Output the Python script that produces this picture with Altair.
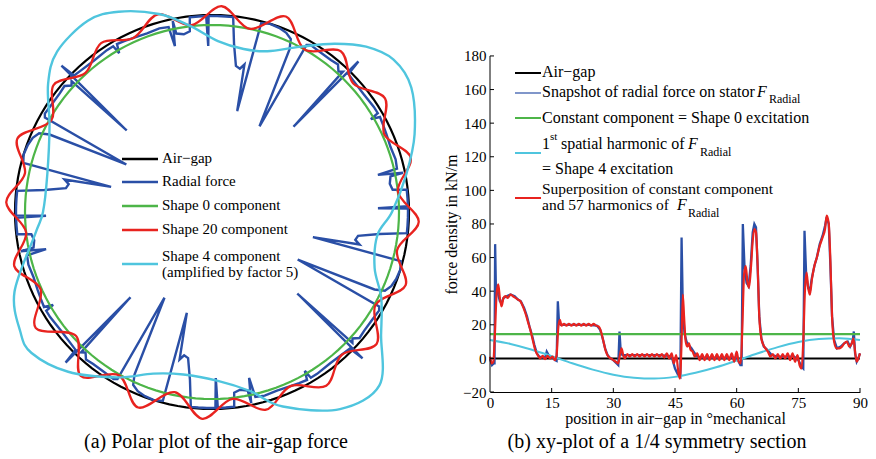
import altair as alt
import pandas as pd

SERIF = "Liberation Serif"

# ---------------------------------------------------------------------------
# (b) xy-plot of a 1/4 symmetry section: force density (kN/m) vs position (deg)
# ---------------------------------------------------------------------------
POS_TICKS = [0, 15, 30, 45, 60, 75, 90]
FORCE_TICKS = [-20, 0, 20, 40, 60, 80, 100, 120, 140, 160, 180]

AIRGAP_LINE = [(0, 0), (90, 0)]
SHAPE0_LINE = [(0, 14.5), (90, 14.5)]

# snapshot of the radial force on the stator
SNAPSHOT = [
    (0, 0), (0.5, -4), (0.9, -3), (1.1, -3), (1.25, 68), (1.45, 40), (1.7, 42),
    (2.0, 38), (2.4, 34), (2.8, 33), (3.3, 36), (4.0, 37), (5.0, 38), (6.0, 37),
    (6.8, 35), (7.5, 34), (8.3, 30), (9.0, 25), (9.6, 19), (10.2, 14), (10.8, 8),
    (11.4, 3), (12.0, 1), (12.8, 0.5), (13.5, 1), (13.8, 4), (14.5, 1), (15.2, 0.5),
    (15.8, -1), (16.2, -1.5), (16.5, 34), (16.8, 21), (17.2, 20), (18, 20), (20, 20),
    (22, 20), (24, 20), (26, 19.5), (26.8, 17), (27.4, 12), (28, 6), (28.6, 2),
    (29.3, 0), (30.0, -1), (30.8, -3), (31.2, -4), (31.5, 16), (31.8, 4), (32.2, 2),
    (33, 2), (35, 2), (38, 2), (41, 2), (43.5, 1.5), (44.3, 0), (45.0, -6),
    (45.8, -10), (46.3, -11), (46.6, 72), (46.9, 30), (47.3, 15), (47.8, 10),
    (48.3, 8), (49, 6), (49.8, 3), (50.5, 1), (52, 0.5), (55, 0.5), (58, 0.5),
    (59.5, 0.5), (60.3, -1), (60.9, -4), (61.2, -4), (61.5, 80), (61.9, 55),
    (62.4, 45), (62.9, 43), (63.4, 55), (63.9, 75), (64.3, 80), (64.7, 78),
    (65.1, 55), (65.5, 25), (66, 12), (66.6, 7), (67.5, 5), (68.5, 2), (70, 1),
    (72, 1), (74, 1), (75, -1), (75.8, -5), (76.2, -6), (76.5, 76), (76.9, 50),
    (77.4, 42), (77.8, 40), (78.3, 48), (78.9, 55), (79.5, 60), (80.2, 68),
    (80.9, 73), (81.5, 79), (81.9, 84), (82.4, 80), (82.8, 55), (83.2, 25),
    (83.7, 11), (84.4, 6), (85.3, 7), (86.2, 9), (87.0, 10), (87.6, 7), (88.2, 10),
    (88.5, 16), (88.8, 3), (89.2, -2), (89.6, 0), (90, 3),
]

# superposition of the constant component and 57 harmonics
SUPERPOSITION = [
    (0, 1), (0.4, -3), (0.8, -2), (1.2, 15), (1.6, 38), (2.0, 44), (2.4, 36),
    (2.8, 31), (3.3, 36), (3.8, 37), (4.3, 36), (5.0, 38), (5.6, 37), (6.2, 36),
    (6.8, 35), (7.4, 34), (8.0, 31), (8.6, 27), (9.2, 22), (9.8, 17), (10.4, 11),
    (11.0, 5), (11.6, 2), (12.2, 0), (12.8, 1.5), (13.4, -0.5), (14.0, 1.5),
    (14.6, 0), (15.2, 1), (15.8, -1), (16.2, 2), (16.6, 18), (17.0, 23),
    (17.4, 19.5), (18.0, 20.5), (18.6, 19.5), (19.2, 20.5), (19.8, 19.5),
    (20.4, 20.5), (21.0, 19.5), (21.6, 20.5), (22.2, 19.5), (22.8, 20.5),
    (23.4, 19.5), (24.0, 20.5), (24.6, 19.5), (25.2, 20.5), (25.8, 19.5),
    (26.4, 19), (27.0, 16), (27.6, 10), (28.2, 4), (28.8, 1), (29.4, 0),
    (30.0, -1), (30.6, -2), (31.2, -3), (31.6, 2), (32.0, 6), (32.4, 2),
    (32.8, 0), (33.4, 2.5), (34.0, 1), (34.6, 2.5), (35.2, 1), (35.8, 2.5),
    (36.4, 1), (37.0, 2.5), (37.6, 1), (38.2, 2.5), (38.8, 1), (39.4, 2.5),
    (40.0, 1), (40.6, 2.5), (41.2, 1), (41.8, 2.5), (42.4, 0.5), (43.0, 3),
    (43.6, 0), (44.2, 3), (44.7, -3), (45.3, 2), (45.8, -8), (46.2, -12),
    (46.6, 10), (46.9, 38), (47.2, 25), (47.6, 10), (48.0, 7), (48.4, 9),
    (48.8, 5), (49.3, 4), (49.8, 1), (50.4, 3), (51.0, -1), (51.6, 2.5),
    (52.2, -1), (52.8, 2.5), (53.4, -1), (54.0, 2.5), (54.6, -1), (55.2, 2.5),
    (55.8, -1), (56.4, 2.5), (57.0, -1), (57.6, 2.5), (58.2, -1), (58.8, 3),
    (59.4, -2), (60.0, 4), (60.5, -2), (61.0, -3), (61.4, 20), (61.8, 50),
    (62.2, 55), (62.6, 46), (63.0, 42), (63.5, 55), (63.9, 70), (64.3, 77),
    (64.7, 75), (65.1, 55), (65.5, 25), (66.0, 12), (66.5, 8), (67.0, 6),
    (67.6, 4), (68.2, 1), (68.8, 2.5), (69.4, 0), (70.0, 2.5), (70.6, 0),
    (71.2, 2.5), (71.8, 0), (72.4, 3), (73.0, -1), (73.6, 3), (74.2, -2),
    (74.8, 2), (75.3, -4), (75.8, -6), (76.2, 10), (76.6, 40), (77.0, 51),
    (77.4, 42), (77.8, 38), (78.3, 47), (78.9, 55), (79.5, 60), (80.2, 67),
    (80.9, 72), (81.5, 77), (81.9, 85), (82.4, 80), (82.8, 58), (83.2, 25),
    (83.7, 10), (84.3, 6), (85.0, 6), (85.6, 7), (86.2, 9), (86.8, 10),
    (87.4, 7), (88.0, 9), (88.4, 12), (88.8, 4), (89.2, -2), (89.6, 0), (90, 3),
]

# 1st spatial harmonic (shape 4 excitation)
SHAPE4_LINE = [
    (0, 11), (5, 8.6), (10, 5.3), (15, 1.3), (20, -2.9), (25, -6.7), (30, -9.7),
    (35, -11.5), (40, -12), (45, -11), (50, -8.6), (55, -5.3), (60, -1.3),
    (65, 2.9), (70, 6.7), (75, 9.7), (80, 11.5), (85, 12), (90, 11),
]

# ---------------------------------------------------------------------------
# (a) polar plot: radius in plot units, angle in degrees (counter-clockwise)
# ---------------------------------------------------------------------------
AIRGAP_RADIUS = 197
SHAPE0_RADIUS = 187

# radial force over one quarter turn; the section repeats every 90 degrees
QUARTER_STARTS = [0, 90, 180, 270]
RADIAL_QUARTER = [
    (0.0, 196), (1.0, 196), (1.3, 166), (1.7, 196), (4.0, 196), (6.5, 196),
    (7.0, 182), (9.0, 180), (11.3, 182), (11.6, 195), (12.6, 170), (13.2, 190),
    (16, 191), (20, 190), (24, 191), (27, 192), (29.5, 193), (30.3, 184),
    (30.8, 193), (33, 193), (38, 192), (43, 193), (45.3, 194), (45.8, 210),
    (46.3, 118), (47.0, 192), (48.0, 189), (49.5, 194), (52, 193), (56, 193),
    (59.5, 194), (60.5, 192), (61.0, 98), (64.5, 180), (65.5, 190), (67.5, 194),
    (70, 196), (73, 197), (75.4, 195), (76.0, 104), (77.6, 151), (79.0, 146),
    (80.7, 148), (82.5, 169), (83.8, 196), (86, 196), (88.5, 196),
]

# shape 20 component: successive troughs and crests
SHAPE20 = [
    (6.3, 187), (15.3, 206), (24.3, 189), (33.3, 207), (42.3, 191), (51.3, 206),
    (60.3, 187), (69.3, 209), (78.3, 187), (87.3, 206), (96.3, 188), (105.3, 205),
    (114.3, 191), (123.3, 202), (132.3, 188), (141.3, 203), (150.3, 185),
    (159.3, 208), (168.3, 191), (177.3, 206), (186.3, 187), (195.3, 205),
    (204.3, 188), (213.3, 211), (222.3, 184), (231.3, 210), (240.3, 188),
    (249.3, 209), (258.3, 184), (267.3, 207), (276.3, 188), (285.3, 205),
    (294.3, 191), (303.3, 208), (312.3, 193), (321.3, 211), (330.3, 188),
    (339.3, 207), (348.3, 189), (357.3, 207),
]

# shape 4 component (amplified by factor 5)
SHAPE4_POLAR = [
    (0, 180), (11, 198), (21, 217), (32, 235), (40, 237), (47, 226), (54, 208),
    (62, 187), (71, 170), (79, 166), (88, 171), (97, 188), (105, 205), (115, 221),
    (123, 228), (134, 223), (142, 208), (152, 184), (167, 169), (180, 169),
    (187, 178), (202, 213), (212, 226), (218, 229), (228, 215), (240, 191),
    (250, 172), (260, 165), (272, 169), (282, 183), (290, 207), (303, 235),
    (314, 241), (324, 209), (333, 190), (341, 172), (352, 167),
]

# ---------------------------------------------------------------------------
BLACK = "#000000"
BLUE = "#2a4fa6"
GREEN = "#4db548"
RED = "#e8231f"
CYAN = "#4fc5de"

POLAR_W, POLAR_H = 422, 391
XY_W, XY_H = 370, 391
FORCE_MIN, FORCE_MAX, FORCE_TOP = -20, 180, 212.7

PX = alt.Scale(domain=[-211, 211], nice=False, zero=False)
PY = alt.Scale(domain=[-180, 211], nice=False, zero=False)


def polar_line(rows, color, width, interp):
    df = pd.DataFrame(rows, columns=["ang", "r"])
    df["k"] = range(len(df))
    return (
        alt.Chart(df)
        .transform_calculate(
            px="datum.r * cos(datum.ang * PI / 180)",
            py="datum.r * sin(datum.ang * PI / 180)",
        )
        .mark_line(color=color, strokeWidth=width, interpolate=interp)
        .encode(
            x=alt.X("px:Q", scale=PX, axis=None),
            y=alt.Y("py:Q", scale=PY, axis=None),
            order=alt.Order("k:Q"),
        )
    )


def label(text, x, y, size, color="black", italic=False, align="left"):
    return (
        alt.Chart(pd.DataFrame({"t": [text]}))
        .mark_text(
            font=SERIF,
            fontSize=size,
            fontStyle="italic" if italic else "normal",
            align=align,
            baseline="middle",
            color=color,
        )
        .encode(x=alt.value(x), y=alt.value(y), text="t:N")
    )


def key_line(x1, x2, y, color, width):
    return (
        alt.Chart(pd.DataFrame({"k": [0]}))
        .mark_rule(color=color, strokeWidth=width)
        .encode(x=alt.value(x1), x2=alt.value(x2), y=alt.value(y))
    )


# ------------------------------ polar panel -------------------------------
circle_steps = [a * 2.5 for a in range(144)]
airgap_rows = [(a, AIRGAP_RADIUS) for a in circle_steps]
shape0_rows = [(a, SHAPE0_RADIUS) for a in circle_steps]
radial_rows = [(q + a, r) for q in QUARTER_STARTS for a, r in RADIAL_QUARTER]

polar = alt.layer(
    polar_line(airgap_rows, BLACK, 2.2, "linear-closed"),
    polar_line(radial_rows, BLUE, 2.4, "linear-closed"),
    polar_line(shape0_rows, GREEN, 2.2, "linear-closed"),
    polar_line(SHAPE20, RED, 2.3, "cardinal-closed"),
    polar_line(SHAPE4_POLAR, CYAN, 2.4, "cardinal-closed"),
    key_line(121, 157, 158, BLACK, 2.5),
    key_line(121, 157, 181, BLUE, 2.5),
    key_line(121, 157, 205, GREEN, 2.5),
    key_line(121, 157, 229, RED, 2.5),
    key_line(121, 157, 263, CYAN, 2.5),
    label("Air\u2212gap", 161, 157, 15),
    label("Radial force", 161, 180, 15),
    label("Shape 0 component", 161, 204, 15),
    label("Shape 20 component", 161, 228, 15),
    label("Shape 4 component", 161, 255, 15),
    label("(amplified by factor 5)", 161, 271, 15),
    label("(a) Polar plot of the air-gap force", 215, 441, 20, align="center"),
).properties(width=POLAR_W, height=POLAR_H)

# -------------------------------- xy panel --------------------------------
X_SCALE = alt.Scale(domain=[0, 90], nice=False, zero=False)
Y_SCALE = alt.Scale(domain=[FORCE_MIN, FORCE_TOP], nice=False, zero=False)
X_AXIS = alt.Axis(
    values=POS_TICKS, grid=False, ticks=False, labelFlush=False,
    domainColor="black", domainWidth=1, labelPadding=3,
    labelFont=SERIF, labelFontSize=15, labelColor="black",
    title="position in air\u2212gap in \u00b0mechanical",
    titleFont=SERIF, titleFontSize=16, titleFontWeight="normal", titleColor="black",
    titleY=26, titleBaseline="middle",
)
Y_AXIS = alt.Axis(
    values=FORCE_TICKS, grid=False, ticks=False, domain=False, labelFlush=False,
    labelPadding=4, labelFont=SERIF, labelFontSize=15, labelColor="black",
    title="force density in kN/m",
    titleFont=SERIF, titleFontSize=16, titleFontWeight="normal", titleColor="black",
    titleX=-39, titleY=223, titleBaseline="middle", titleAngle=270,
)


def xy_line(rows, color, width, interp="linear"):
    df = pd.DataFrame(rows, columns=["pos", "force"])
    return alt.Chart(df).mark_line(
        color=color, strokeWidth=width, interpolate=interp
    ).encode(
        x=alt.X("pos:Q", scale=X_SCALE, axis=X_AXIS),
        y=alt.Y("force:Q", scale=Y_SCALE, axis=Y_AXIS),
    )


y_axis_line = alt.Chart(pd.DataFrame({"k": [0]})).mark_rule(
    color="black", strokeWidth=1
).encode(
    x=alt.X(datum=0, scale=X_SCALE, axis=X_AXIS),
    y=alt.Y(datum=FORCE_MIN, scale=Y_SCALE, axis=Y_AXIS),
    y2=alt.Y2(datum=FORCE_MAX),
)

x_ticks = alt.Chart(pd.DataFrame({"pos": POS_TICKS[1:]})).mark_rule(
    color="black", strokeWidth=1
).encode(
    x=alt.X("pos:Q", scale=X_SCALE, axis=X_AXIS),
    y=alt.Y(datum=FORCE_MIN, scale=Y_SCALE, axis=Y_AXIS),
    y2=alt.value(XY_H - 4),
)

y_ticks = alt.Chart(pd.DataFrame({"force": FORCE_TICKS})).mark_rule(
    color="black", strokeWidth=1
).encode(
    y=alt.Y("force:Q", scale=Y_SCALE, axis=Y_AXIS),
    x=alt.X(datum=0, scale=X_SCALE, axis=X_AXIS),
    x2=alt.value(4),
)

xy = alt.layer(
    xy_line(AIRGAP_LINE, BLACK, 2),
    xy_line(SNAPSHOT, BLUE, 2.3),
    xy_line(SHAPE0_LINE, GREEN, 2.2),
    xy_line(SHAPE4_LINE, CYAN, 2, "monotone"),
    xy_line(SUPERPOSITION, RED, 2.2, "monotone"),
    y_axis_line,
    x_ticks,
    y_ticks,
    key_line(25, 51, 72, BLACK, 2),
    key_line(25, 51, 92, BLUE, 1.2),
    key_line(25, 51, 117, GREEN, 2),
    key_line(25, 51, 152, CYAN, 2),
    key_line(25, 51, 197, RED, 2),
    label("Air\u2212gap", 52, 71, 16),
    label("Snapshot of radial force on stator", 52, 91, 16),
    label("F", 267, 91, 16, italic=True),
    label("Radial", 279, 98, 12),
    label("Constant component = Shape 0 excitation", 52, 117, 16),
    label("1", 52, 143, 16),
    label("st", 60, 136, 11),
    label("spatial harmonic of", 71, 143, 16),
    label("F", 198, 143, 16, italic=True),
    label("Radial", 210, 151, 12),
    label("= Shape 4 excitation", 52, 168, 16),
    label("Superposition of constant component", 52, 188, 15.5),
    label("and 57 harmonics of", 52, 204, 15.5),
    label("F", 187, 204, 16, italic=True),
    label("Radial", 198, 212, 12),
    label("(b) xy-plot of a 1/4 symmetry section", 167, 441, 20, align="center"),
).properties(width=XY_W, height=XY_H)

chart = (
    alt.hconcat(polar, xy, spacing=67, bounds="flush")
    .properties(padding=0, background="white")
    .configure_view(stroke="transparent")
)

chart.save("out.html", embed_options={"renderer": "svg", "actions": False})
